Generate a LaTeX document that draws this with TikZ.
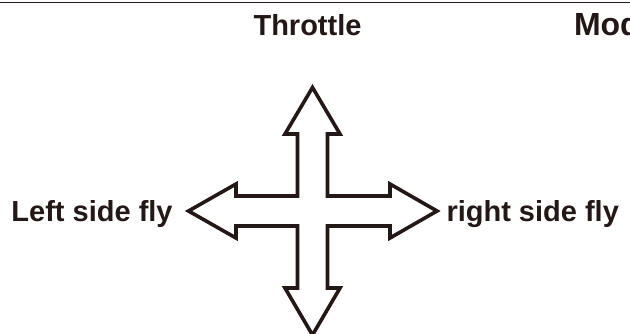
\documentclass[tikz,border=0pt]{standalone}
\usepackage{fontspec}
\setmainfont{Liberation Sans}
\definecolor{ink}{HTML}{231815}
\begin{document}
\begin{tikzpicture}[x=1pt,y=-1pt,
  lbl/.style={inner sep=0pt,outer sep=0pt,anchor=base west,text=ink,font=\bfseries\fontsize{29}{34}\selectfont},
  crossline/.style={draw=ink,line width=3.6pt,line join=miter,fill=white}]
\useasboundingbox (0,0) rectangle (630,333);
\clip (0,0) rectangle (630,333);
\fill[white] (0,0) rectangle (630,333);
\draw[ink,line width=1.4pt] (0,2.5) -- (630,2.5);
\node[lbl,anchor=base] (throttle) at (307.5,35) {Throttle};
\node[lbl,font=\bfseries\fontsize{32}{38}\selectfont] (mode) at (574,35.5) {Mode};
\node[lbl] (left) at (11.5,221) {Left side fly};
\node[lbl] (right) at (446.5,221) {right side fly};
\draw[crossline] (312.5,87.5) -- (340,134) -- (327.5,134) -- (327.5,196) -- (390,196) -- (390,184)
  -- (437,211) -- (390,238) -- (390,226) -- (327.5,226) -- (327.5,288) -- (340,288)
  -- (312.5,335) -- (285,288) -- (297.5,288) -- (297.5,226) -- (236,226) -- (236,238)
  -- (188.5,211) -- (236,184) -- (236,196) -- (297.5,196) -- (297.5,134) -- (285,134) -- cycle;
\end{tikzpicture}
\end{document}
